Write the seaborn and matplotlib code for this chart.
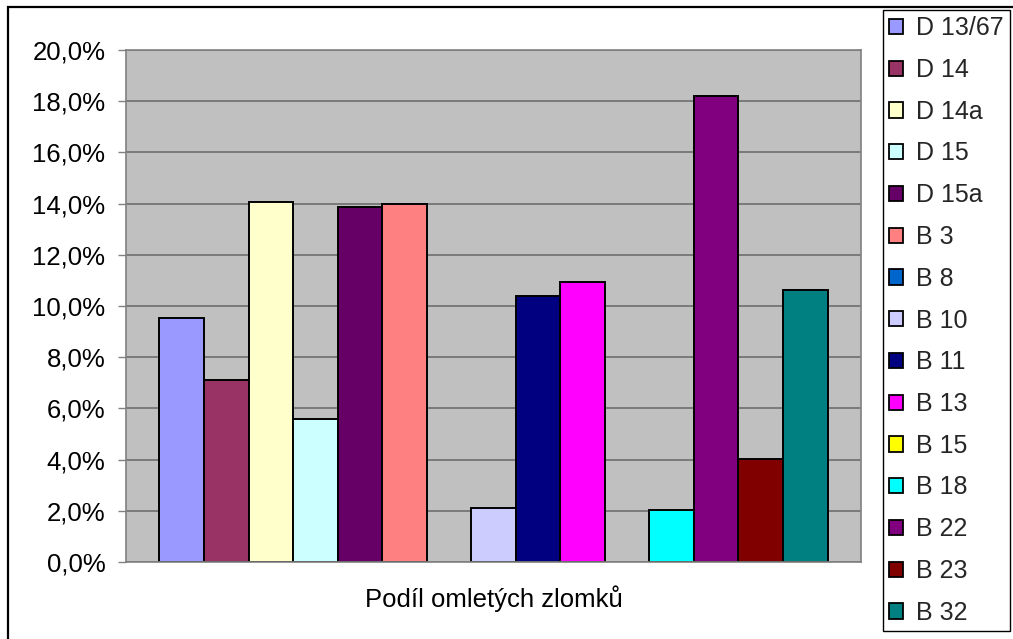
import matplotlib
matplotlib.use("Agg")
import matplotlib.pyplot as plt
from matplotlib.patches import Patch, Rectangle
from matplotlib.ticker import FuncFormatter
import pandas as pd
import seaborn as sns

# === Data ===
category = "Podíl omletých zlomků"
series = ["D 13/67", "D 14", "D 14a", "D 15", "D 15a", "B 3", "B 8", "B 10",
          "B 11", "B 13", "B 15", "B 18", "B 22", "B 23", "B 32"]
values = [9.52, 7.10, 14.07, 5.60, 13.88, 13.97, 0.0, 2.10,
          10.38, 10.92, 0.0, 2.02, 18.20, 4.03, 10.61]  # v procentech
colors = ["#9999FF", "#993366", "#FFFFCC", "#CCFFFF", "#660066", "#FF8080", "#0066CC", "#CCCCFF",
          "#000080", "#FF00FF", "#FFFF00", "#00FFFF", "#800080", "#800000", "#008080"]
y_ticks = [0, 2, 4, 6, 8, 10, 12, 14, 16, 18, 20]

df = pd.DataFrame({"cat": [category] * len(series), "series": series, "value": values})

sns.set_style("white")
plt.rcParams["font.family"] = ["Liberation Sans", "DejaVu Sans"]

W, H = 1013, 639
fig = plt.figure(figsize=(W / 100, H / 100), dpi=100)
fig.patch.set_facecolor("white")
ax = fig.add_axes([126 / W, 1 - 562 / H, (861 - 126) / W, (562 - 50) / H])

sns.barplot(data=df, x="cat", y="value", hue="series", hue_order=series,
            palette=dict(zip(series, colors)), saturation=1, width=0.909,
            edgecolor="black", linewidth=1.4, legend=False, ax=ax)

# nulove sloupce bez obrysu
for p in ax.patches:
    if p.get_height() == 0:
        p.set_linewidth(0)

ax.set_xlim(-0.5, 0.5)
ax.set_ylim(0, 20)
ax.set_facecolor("#C0C0C0")
ax.set_yticks(y_ticks)
ax.yaxis.set_major_formatter(FuncFormatter(lambda v, _: f"{v:.1f}%".replace(".", ",")))
ax.yaxis.grid(True, color="#6e6e6e", linewidth=1.2)
ax.set_axisbelow(True)
for s in ax.spines.values():
    s.set_color("#808080")
    s.set_linewidth(1.2)

ax.set_xticks([0])
ax.set_xticklabels([category])
ax.set_xticks([-0.5, 0.5], minor=True)
ax.tick_params(axis="x", which="major", length=0, pad=17, labelsize=18.5, labelcolor="black")
ax.tick_params(axis="x", which="minor", length=5.8, width=1, color="#808080", direction="out")
ax.tick_params(axis="y", length=5.8, width=1, color="#808080", direction="out", pad=9,
               labelsize=18.5, labelcolor="black", left=True)
ax.set_xlabel("")
ax.set_ylabel("")

# === Legenda ===
handles = [Patch(facecolor=c, edgecolor="black", linewidth=1.3) for c in colors]
leg = fig.legend(handles, series, loc="upper left", bbox_to_anchor=(883 / W, 1 - 10 / H),
                 frameon=True, fancybox=False, edgecolor="black", framealpha=1,
                 borderpad=0.25, handlelength=0.56, handleheight=0.56, handletextpad=0.5,
                 labelspacing=0.71, borderaxespad=0, fontsize=18)
leg.get_frame().set_linewidth(1.0)

# ramecek grafu
fig.add_artist(Rectangle((8 / W, -0.1), 1.2, 1 - 7 / H + 0.1, transform=fig.transFigure,
                         fill=False, edgecolor="black", linewidth=1.6))

fig.savefig("out.png", dpi=100)
plt.close(fig)
